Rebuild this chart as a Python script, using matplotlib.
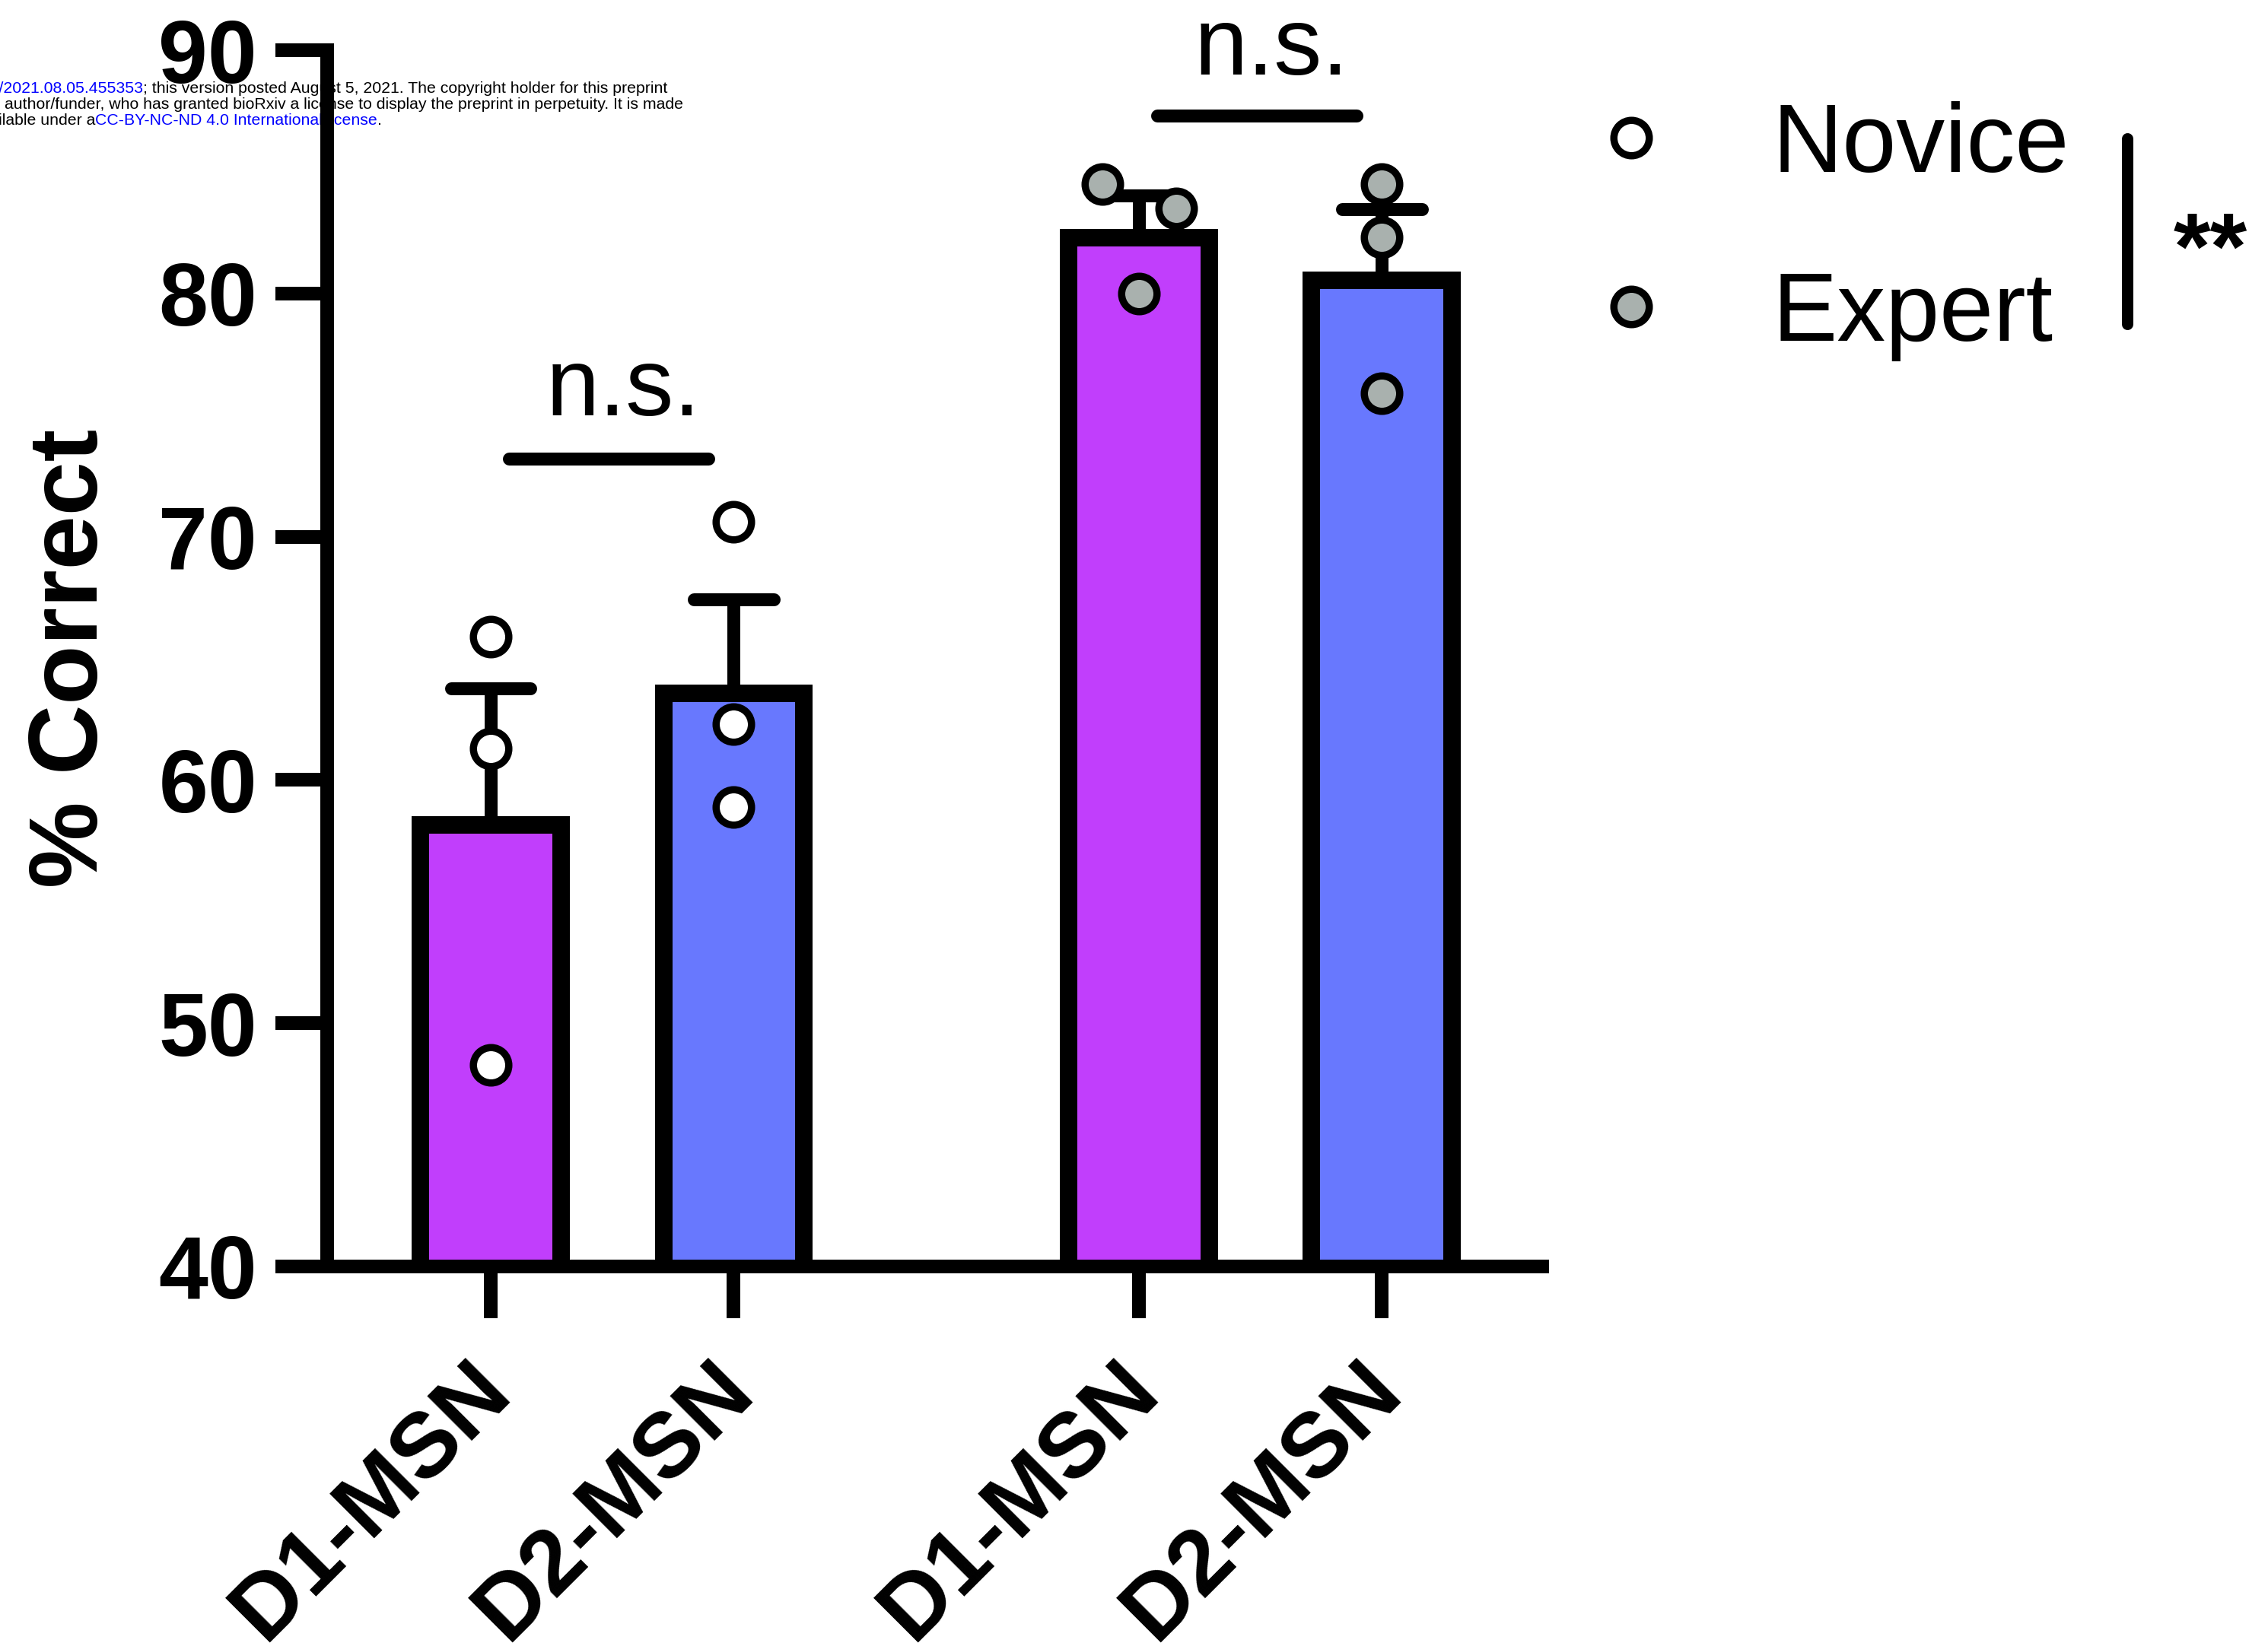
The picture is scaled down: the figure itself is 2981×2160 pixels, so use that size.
import numpy as np
import matplotlib
matplotlib.use("Agg")
import matplotlib.pyplot as plt
from matplotlib.lines import Line2D
from matplotlib.text import Annotation
from matplotlib.transforms import TransformedPath
from matplotlib import transforms

plt.rcParams['font.family'] = ['Liberation Sans', 'DejaVu Sans']

# ---------------------------------------------------------------- data
cell_types = ["D1-MSN", "D2-MSN", "D1-MSN", "D2-MSN"]
stages = ["Novice", "Novice", "Expert", "Expert"]
novice_d1 = [65.9, 61.3, 48.3]
novice_d2 = [70.6, 62.3, 58.9]
expert_d1 = [84.5, 83.5, 80.0]
expert_d2 = [84.5, 82.3, 75.9]
y_ticks = [40, 50, 60, 70, 80, 90]
pair_labels = ["n.s.", "n.s."]
stage_label = "**"

groups = [novice_d1, novice_d2, expert_d1, expert_d2]
means = [float(np.mean(g)) for g in groups]
sems = [float(np.std(g, ddof=1) / np.sqrt(len(g))) for g in groups]

# ---------------------------------------------------------------- layout / style
x_pos = [0.0, 1.0, 2.667, 3.667]
jitter = [[0, 0, 0], [0, 0, 0], [-0.15, 0.155, 0.0], [0, 0, 0]]
bar_colors = ["#C13EFC", "#6878FE", "#C13EFC", "#6878FE"]
dot_colors = {"Novice": "white", "Expert": "#A9B1AE"}
bracket_y = [73.2, 87.3]
label_y = [75.0, 89.0]
bar_base = 39          # bars start just under the visible axis floor (40)
cap_half = 0.164       # half length of the SEM cap, in x units

W, H, DPI = 2981, 2160, 100
PT = 72 / DPI  # points per pixel
DOT_MS = 33.5
DOT_MEW = 9.5 * PT

fig = plt.figure(figsize=(W / DPI, H / DPI), dpi=DPI)


def fx(px):
    return px / W


def fy(py):
    return 1 - py / H


ax = fig.add_axes([fx(430), fy(1665), fx(2027) - fx(430), fy(66) - fy(1665)])
ax.patch.set_facecolor('none')

# bars, outlined on the inside (stroke doubled, clipped to the bar outline)
bars = ax.bar(x_pos, [m - bar_base for m in means], bottom=bar_base, width=0.65,
              color=bar_colors, edgecolor='black', linewidth=2 * 23 * PT, zorder=2)
for p in bars.patches:
    p.set_clip_path(TransformedPath(p.get_path(), p.get_transform()))

# upper-only SEM error bars
tops = [m + s for m, s in zip(means, sems)]
ax.vlines(x_pos, means, tops, color='black', lw=17 * PT, zorder=3)
caps = ax.hlines(tops, [x - cap_half for x in x_pos], [x + cap_half for x in x_pos],
                 color='black', lw=17 * PT, zorder=3)
caps.set_capstyle('round')

# individual animals
for x, g, jit, st in zip(x_pos, groups, jitter, stages):
    ax.plot([x + j for j in jit], g, linestyle='none', marker='o', ms=DOT_MS,
            mfc=dot_colors[st], mec='black', mew=DOT_MEW, zorder=4, clip_on=False)

# within-stage comparison brackets
pairs = [(x_pos[0], x_pos[1]), (x_pos[2], x_pos[3])]
for (a, b), yb, yl, lab in zip(pairs, bracket_y, label_y, pair_labels):
    ax.plot([a + 0.075, b - 0.104], [yb, yb], color='black', lw=17 * PT,
            solid_capstyle='round', clip_on=False, zorder=3)
    ax.text((a + b) / 2 + 0.045, yl, lab, ha='center', va='baseline',
            fontsize=91, clip_on=False)

# axes styling
ax.set_xlim(-0.673, 4.327)
ax.set_ylim(40, 90)
for side in ['top', 'right']:
    ax.spines[side].set_visible(False)
for side in ['left', 'bottom']:
    ax.spines[side].set_linewidth(18 * PT)
    ax.spines[side].set_capstyle('projecting')
ax.set_yticks(y_ticks)
ax.set_yticklabels([str(t) for t in y_ticks], fontweight='bold', fontsize=84)
ax.tick_params(axis='y', length=68 * PT, width=18 * PT, pad=24 * PT)
ax.set_xticks(x_pos)
ax.set_xticklabels(cell_types, fontweight='bold', fontsize=87)
ax.tick_params(axis='x', length=68 * PT, width=18 * PT, pad=76 * PT)
shift = transforms.ScaledTranslation(8 / DPI, 0, fig.dpi_scale_trans)
for lab in ax.get_xticklabels():
    lab.set_rotation(45)
    lab.set_ha('right')
    lab.set_va('center')
    lab.set_rotation_mode('anchor')
    lab.set_transform(lab.get_transform() + shift)

ax.set_ylabel("% Correct", fontweight='bold', fontsize=92)
ax.yaxis.set_label_coords(-0.172, 0.5)

# legend for training stage
handles = [Line2D([], [], linestyle='none', marker='o', ms=DOT_MS, mfc=dot_colors[s],
                  mec='black', mew=DOT_MEW) for s in ["Novice", "Expert"]]
fig.legend(handles, ["Novice", "Expert"], loc='upper left',
           bbox_to_anchor=(fx(2080), fy(133)), bbox_transform=fig.transFigure,
           frameon=False, fontsize=92, handlelength=1.0, handletextpad=0.95,
           borderpad=0, borderaxespad=0, labelspacing=0.8, numpoints=1)

# stage comparison marker
fig.add_artist(Line2D([fx(2796), fx(2796)], [fy(182), fy(426)], color='black',
                      lw=15 * PT, solid_capstyle='round', transform=fig.transFigure))
fig.text(fx(2905), fy(367), stage_label, ha='center', va='baseline',
         fontsize=90, fontweight='bold')

# preprint header line
blue = '#0000FF'
wm = dict(fontsize=15.3, zorder=-1)


def chain(prev, text, color, side='right'):
    if side == 'right':
        ann = Annotation(text, xy=(1, 0), xycoords=prev, ha='left', va='bottom',
                         color=color, **wm)
    else:
        ann = Annotation(text, xy=(0, 0), xycoords=prev, ha='right', va='bottom',
                         color=color, **wm)
    fig.add_artist(ann)
    return ann


t1 = fig.text(fx(188), fy(122), "; this version posted August 5, 2021. The copyright holder for this preprint",
              ha='left', va='baseline', color='black', **wm)
chain(t1, "bioRxiv preprint doi: https://doi.org/10.1101/2021.08.05.455353", blue, side='left')

t2 = fig.text(fx(6), fy(143), "author/funder, who has granted bioRxiv a license to display the preprint in perpetuity. It is made",
              ha='left', va='baseline', color='black', **wm)
chain(t2, "(which was not certified by peer review) is the ", 'black', side='left')

t3 = fig.text(fx(125), fy(164), "CC-BY-NC-ND 4.0 International license",
              ha='left', va='baseline', color=blue, **wm)
chain(t3, "available under a", 'black', side='left')
chain(t3, ".", 'black', side='right')

fig.savefig("out.png", dpi=DPI)
